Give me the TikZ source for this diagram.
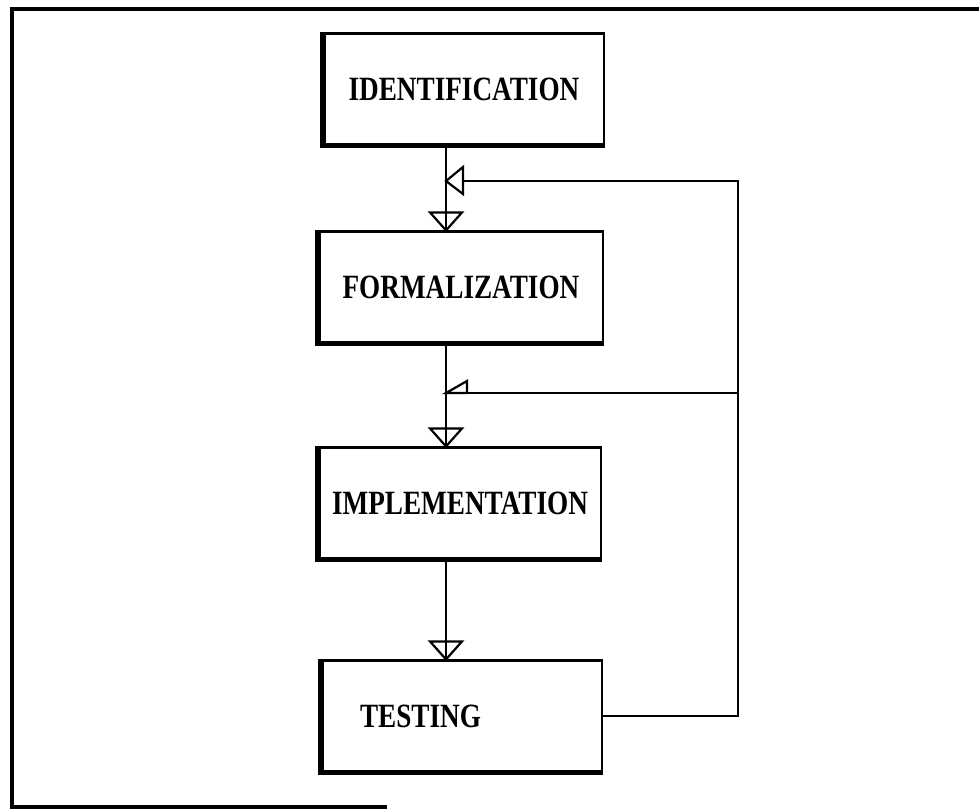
\documentclass[tikz,border=0pt]{standalone}
\usepackage{fontspec}
\setmainfont{Liberation Serif}
\usepackage{graphicx}
\begin{document}
\begin{tikzpicture}[x=1pt,y=-1pt,
  box/.style={draw, line width=2.2pt, minimum width=280pt, minimum height=111pt, inner sep=0pt,
    font=\fontsize{34}{34}\selectfont\bfseries},
  thickedge/.style={line width=5.5pt, line join=miter},
  conn/.style={line width=2.6pt},
  tri/.style={line width=2.2pt, line join=miter},
  framel/.style={line width=4pt}]
\useasboundingbox (0,0) rectangle (979,809);
% outer frame (partial, as in the scan)
\draw[framel] (979,9) -- (12,9) -- (12,807) -- (387,807);
% boxes
\node[box] (id)   at (464,89)  {\scalebox{0.8}[1]{IDENTIFICATION}};
\node[box, minimum width=284pt] (form) at (461,287) {\scalebox{0.8}[1]{FORMALIZATION}};
\node[box, minimum width=282pt] (impl) at (460,503) {\scalebox{0.8}[1]{IMPLEMENTATION}};
\node[box, text width=204pt, align=left, inner xsep=38pt] (test) at (462,716) {\scalebox{0.8}[1]{TESTING}};
\foreach \n in {id,form,impl,test}
  \draw[thickedge] (\n.north west) -- (\n.south west) -- (\n.south east);
% spine and feedback coordinates
\coordinate (sp) at (446,0);
\coordinate (rx) at (738,0);
\coordinate (fb1) at (446,181);
\coordinate (fb2) at (446,393);
% downward connectors
\draw[conn] (sp |- id.south) -- (sp |- form.north);
\draw[conn] (sp |- form.south) -- (sp |- impl.north);
\draw[conn] (sp |- impl.south) -- (sp |- test.north);
% downward open arrowheads
\foreach \n in {form,impl,test}
  \draw[tri] (sp |- \n.north) -- ++(-16,-18) -- ++(32,0) -- cycle;
% feedback loop
\draw[conn] (test.east) -| (rx |- fb1) -- ([xshift=17pt]fb1);
\draw[conn] (rx |- fb2) -- (fb2);
% feedback arrowheads
\draw[tri] (fb1) -- ++(17,-14) -- ++(0,27) -- cycle;
\draw[tri] (fb2) -- ++(21,-12) -- ++(0,12) -- cycle;
\end{tikzpicture}
\end{document}
